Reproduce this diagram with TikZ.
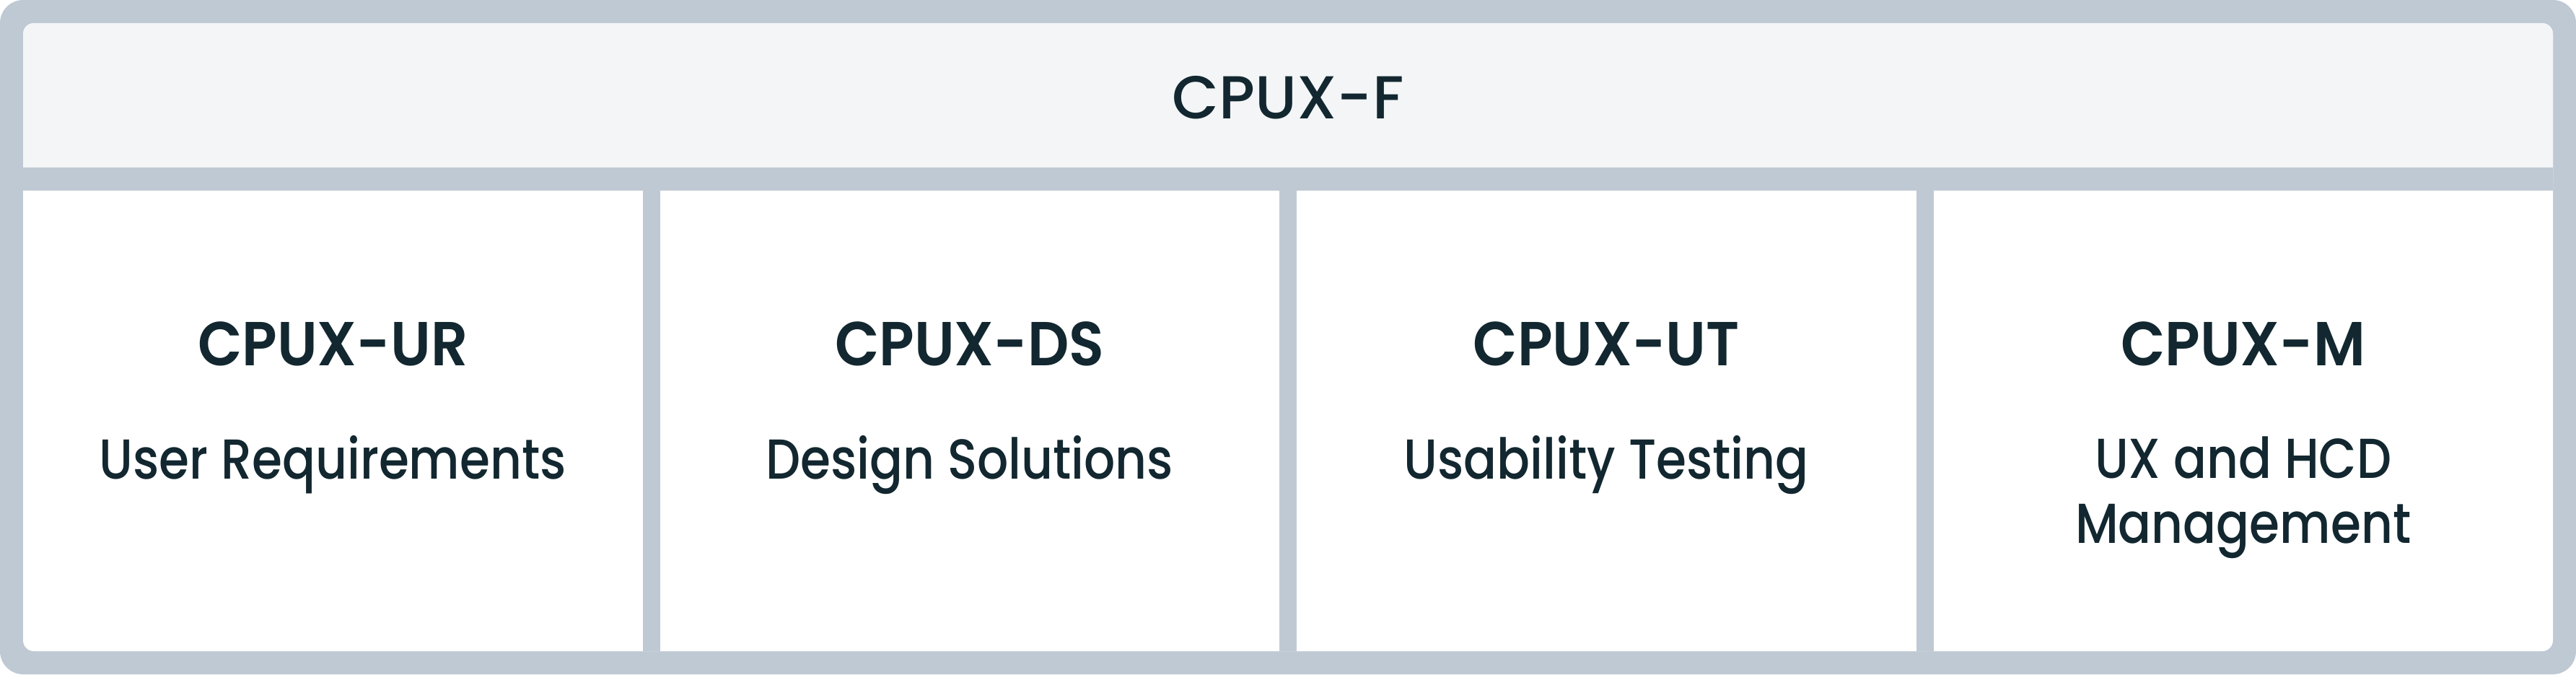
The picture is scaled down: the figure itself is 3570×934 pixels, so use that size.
\documentclass[tikz,border=0pt]{standalone}
\usepackage{fontspec}
\setmainfont{Poppins}
\newfontfamily\titlefont{Poppins Medium}
\newfontfamily\codefont{Poppins SemiBold}[FakeStretch=0.93]
\newfontfamily\topicfont{Poppins Medium}[FakeStretch=0.87]
\usepackage{tikz}
\usetikzlibrary{positioning}

\definecolor{framegray}{HTML}{BFC9D3}
\definecolor{headfill}{HTML}{F3F5F7}
\definecolor{ink}{HTML}{12272F}

\begin{document}
\begin{tikzpicture}[
  x=0.5pt, y=-0.5pt,
  title/.style={text=ink, font=\titlefont\fontsize{42}{52}\selectfont, anchor=base, inner sep=0pt},
  code/.style={text=ink, font=\codefont\fontsize{43}{52}\selectfont, anchor=base, inner sep=0pt},
  topic/.style={text=ink, font=\topicfont\fontsize{39}{45}\selectfont, anchor=base, inner sep=0pt, align=center},
]
\useasboundingbox (0,0) rectangle (3570,934);

% Frame and panels
\fill[framegray, rounded corners=16pt] (0,0) rectangle (3570,934);
\fill[white, rounded corners=7.5pt] (32,32) rectangle (3538,902);
\fill[headfill, rounded corners=7.5pt] (32,32) rectangle (3538,264);
\fill[framegray] (32,232) rectangle (3538,264);
\foreach \x in {890.5, 1773, 2655.5}
  \fill[framegray] (\x,264) rectangle ++(24,638);

% Foundation
\node[title] (f) at (1785,164) {CPUX-F};

% Modules
\node[code] (ur) at (461.25,506) {CPUX-UR};
\node[code] (ds) at (1343.75,506) {CPUX-DS};
\node[code] (ut) at (2226.25,506) {CPUX-UT};
\node[code] (m) at (3108.75,506) {CPUX-M};

% base of a two-line node is its last line
\node[topic] (ur-sub) at (461.25,663) {User Requirements};
\node[topic] (ds-sub) at (1343.75,663) {Design Solutions};
\node[topic] (ut-sub) at (2226.25,663) {Usability Testing};
\node[topic] (m-sub) at (3108.75,752) {UX and HCD\\Management};

\end{tikzpicture}
\end{document}
